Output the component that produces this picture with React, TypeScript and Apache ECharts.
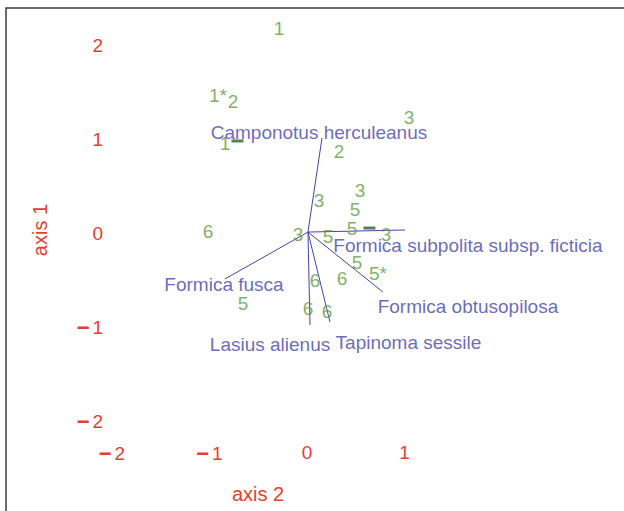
import React, { useEffect, useRef } from "react";
import * as echarts from "echarts";

// Site scores (green labels): [axis 2, axis 1]
const siteLabels = ["1", "1*", "2", "3", "1", "2", "3", "3", "5", "5", "3", "5", "3", "6", "5", "5*", "6", "6", "5", "6", "6"];
const siteX = [-0.287, -0.913, -0.759, 1.046, -0.841, 0.328, 0.123, 0.544, 0.492, 0.462, 0.81, 0.215, -0.092, -1.015, 0.513, 0.728, 0.359, 0.082, -0.656, 0.01, 0.205];
const siteY = [2.18, 1.468, 1.404, 1.234, 0.957, 0.862, 0.351, 0.457, 0.245, 0.053, -0.011, -0.032, -0.011, 0.021, -0.319, -0.426, -0.479, -0.5, -0.745, -0.798, -0.84];

// Dark green markers
const markX = [-0.713, 0.641];
const markY = [0.979, 0.053];

// Species vectors
const speciesNames = [
  "Camponotus herculeanus",
  "Formica subpolita subsp. ficticia",
  "Formica obtusopilosa",
  "Tapinoma sessile",
  "Lasius alienus",
  "Formica fusca",
];
const vecX = [0.154, 1.005, 0.779, 0.236, 0.031, -0.841];
const vecY = [1.011, 0.032, -0.628, -0.947, -0.979, -0.489];
const labelX = [0.123, 1.651, 1.651, 1.041, -0.379, -0.851];
const labelY = [1.074, -0.138, -0.777, -1.16, -1.191, -0.553];
const origin = [0.01, 0.01];

const xTicks = [-2, -1, 0, 1];
const yTicks = [-2, -1, 0, 1, 2];

const RED = "#e83d2f";
const GREEN = "#5e9b40";
const BLUE = "#4444aa";
const FONT = "Liberation Sans, Arial, sans-serif";

export default function App() {
  const ref = useRef<HTMLDivElement>(null);
  useEffect(() => {
    if (!ref.current) return;
    const chart = echarts.init(ref.current, null, { renderer: "svg" });
    const fmt = (v: number) =>
      v < 0 ? `{m|\u2212}{n|${Math.abs(v)}}` : `{n|${v}}`;
    const rich = {
      m: { color: RED, fontSize: 22, fontWeight: "bold", fontFamily: FONT, padding: [0, 3, 0, 0] },
      n: { color: RED, fontSize: 19, fontFamily: FONT },
    };
    chart.setOption({
      animation: false,
      backgroundColor: "#ffffff",
      grid: {
        left: 107.1,
        width: 511.9,
        top: 7.4,
        height: 432.4,
        containLabel: false,
        outerBoundsMode: "none",
      },
      xAxis: {
        type: "value",
        min: -2.05,
        max: 3.2,
        axisLine: { show: false },
        axisTick: { show: false },
        splitLine: { show: false },
        axisLabel: {
          customValues: xTicks,
          color: RED,
          fontSize: 19,
          fontFamily: FONT,
          margin: 3,
          formatter: fmt,
          rich,
        },
      },
      yAxis: {
        type: "value",
        min: -2.2,
        max: 2.4,
        axisLine: { show: false },
        axisTick: { show: false },
        splitLine: { show: false },
        axisLabel: {
          customValues: yTicks,
          color: RED,
          fontSize: 19,
          fontFamily: FONT,
          margin: 4,
          formatter: fmt,
          rich,
        },
      },
      graphic: [
        {
          type: "rect",
          shape: { x: 6, y: 8, width: 700, height: 600 },
          style: { fill: "none", stroke: "#3a3a3a", lineWidth: 1.5 },
          silent: true,
        },
        {
          type: "text",
          x: 258,
          y: 494,
          style: {
            text: "axis 2",
            fill: RED,
            font: `20px ${FONT}`,
            textAlign: "center",
            textVerticalAlign: "middle",
          },
        },
        {
          type: "text",
          x: 40,
          y: 230,
          rotation: Math.PI / 2,
          style: {
            text: "axis 1",
            fill: RED,
            font: `20px ${FONT}`,
            textAlign: "center",
            textVerticalAlign: "middle",
          },
        },
      ],
      series: [
        {
          type: "lines",
          coordinateSystem: "cartesian2d",
          lineStyle: { color: BLUE, width: 1, opacity: 1 },
          data: vecX.map((x, i) => ({ coords: [origin, [x, vecY[i]]] })),
          z: 2,
        },
        {
          type: "scatter",
          symbol: "rect",
          symbolSize: [12, 3],
          itemStyle: { color: "#2e5e2c" },
          data: markX.map((x, i) => [x, markY[i]]),
          z: 3,
        },
        {
          type: "scatter",
          symbolSize: 1,
          itemStyle: { color: "rgba(0,0,0,0)" },
          label: {
            show: true,
            position: "inside",
            formatter: (p: any) => p.name,
            color: GREEN,
            fontSize: 19,
            fontFamily: FONT,
          },
          data: siteLabels.map((n, i) => ({ name: n, value: [siteX[i], siteY[i]] })),
          z: 4,
        },
        {
          type: "scatter",
          symbolSize: 1,
          itemStyle: { color: "rgba(0,0,0,0)" },
          label: {
            show: true,
            position: "inside",
            formatter: (p: any) => p.name,
            color: BLUE,
            fontSize: 19,
            fontFamily: FONT,
          },
          data: speciesNames.map((n, i) => ({ name: n, value: [labelX[i], labelY[i]] })),
          z: 5,
        },
      ],
    });
    return () => chart.dispose();
  }, []);
  return (
    <div
      ref={ref}
      style={{ position: "fixed", left: 0, top: 0, width: 624, height: 511 }}
    />
  );
}
